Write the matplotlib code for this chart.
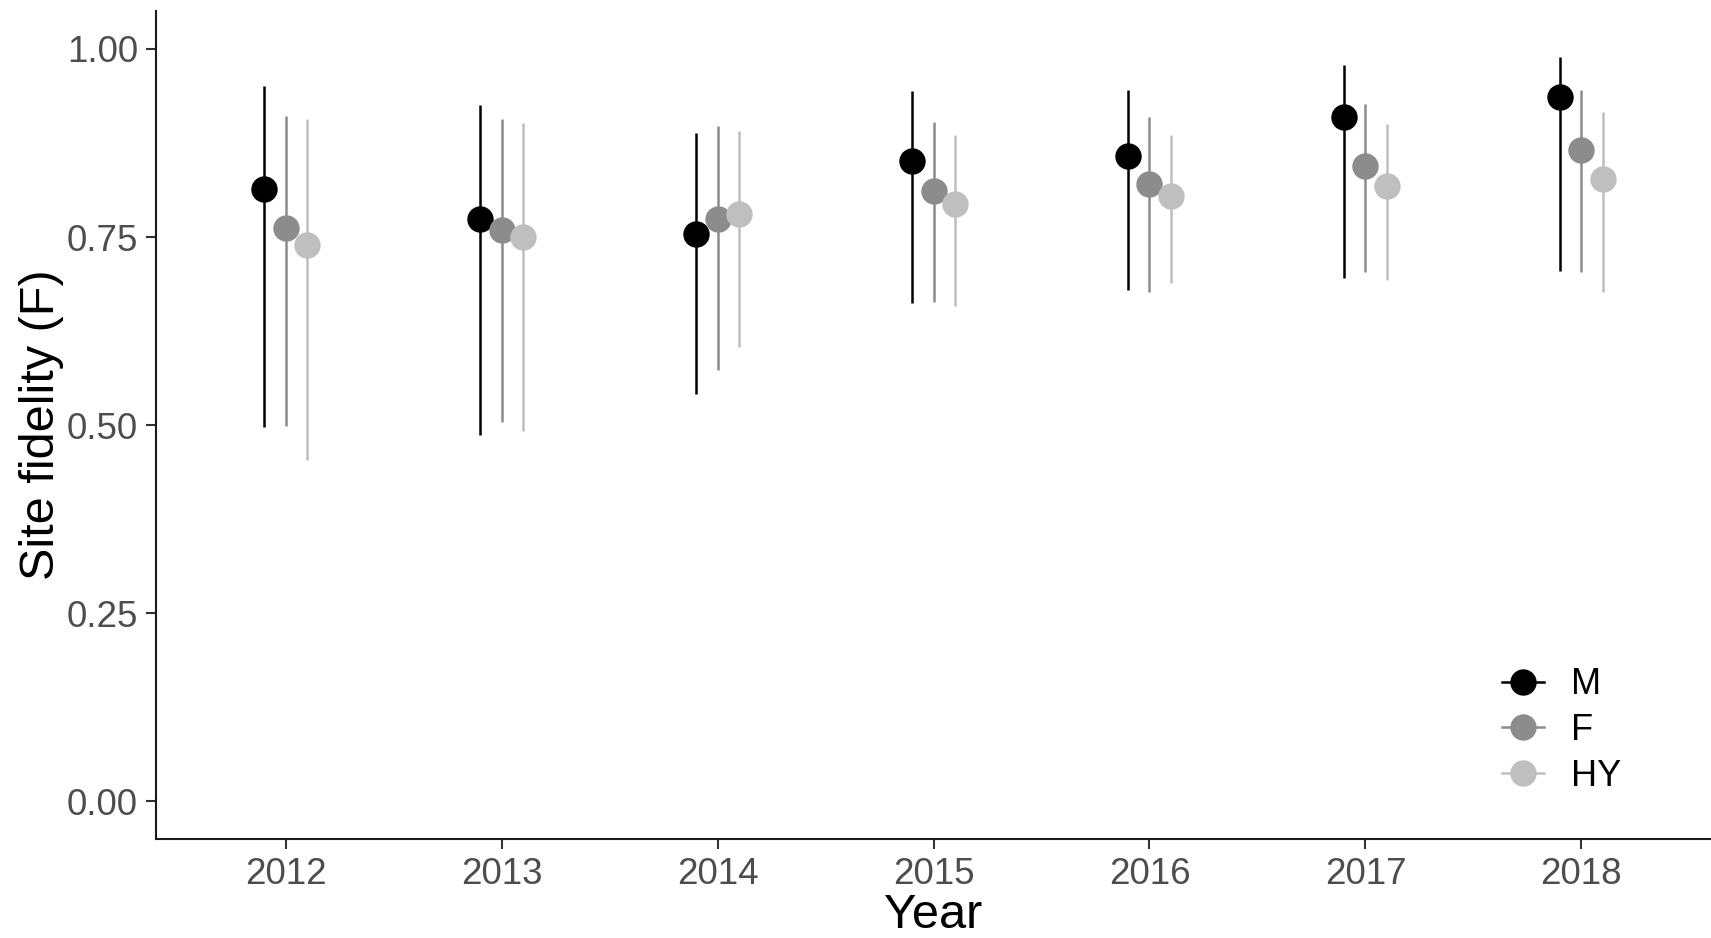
#!/usr/bin/env python
"""
Site fidelity (F) by year for M, F and HY birds, point estimates with
confidence intervals, ggplot-classic look.
"""

# Third party modules.
import numpy as np
import matplotlib
matplotlib.use("Agg")
import matplotlib.pyplot as plt
from matplotlib.lines import Line2D

# Globals and constants variables.
years = ["2012", "2013", "2014", "2015", "2016", "2017", "2018"]
groups = ["M", "F", "HY"]

m_est = [0.814, 0.774, 0.754, 0.851, 0.857, 0.909, 0.936]
m_low = [0.498, 0.487, 0.541, 0.662, 0.679, 0.695, 0.705]
m_high = [0.951, 0.925, 0.888, 0.944, 0.945, 0.978, 0.989]

f_est = [0.762, 0.759, 0.774, 0.811, 0.820, 0.845, 0.865]
f_low = [0.499, 0.504, 0.573, 0.663, 0.677, 0.703, 0.703]
f_high = [0.911, 0.907, 0.897, 0.903, 0.909, 0.927, 0.945]

hy_est = [0.740, 0.750, 0.780, 0.794, 0.805, 0.818, 0.827]
hy_low = [0.454, 0.492, 0.604, 0.658, 0.689, 0.693, 0.677]
hy_high = [0.907, 0.902, 0.891, 0.886, 0.886, 0.900, 0.916]

colors = {"M": "#000000", "F": "#8c8c8c", "HY": "#bfbfbf"}
offsets = {"M": -0.1, "F": 0.0, "HY": 0.1}

plt.rcParams["font.family"] = ["Liberation Sans", "DejaVu Sans"]


def run():
    fig = plt.figure(figsize=(17.11, 9.38), dpi=100)
    ax = fig.add_axes([0.0912, 0.1055, 0.9088, 0.8825])

    series = {
        "M": (m_est, m_low, m_high),
        "F": (f_est, f_low, f_high),
        "HY": (hy_est, hy_low, hy_high),
    }
    x = np.arange(1, len(years) + 1)

    for g in groups:
        est, low, high = series[g]
        xs = x + offsets[g]
        ax.vlines(xs, low, high, color=colors[g], linewidth=1.8, zorder=2)
        ax.plot(xs, est, "o", color=colors[g], markersize=19,
                markeredgewidth=0, zorder=3)

    ax.set_xlim(0.4, 7.6)
    ax.set_ylim(-0.05, 1.05)
    ax.set_xticks(x)
    ax.set_xticklabels(years)
    ax.set_yticks([0.0, 0.25, 0.5, 0.75, 1.0])
    ax.set_yticklabels(["0.00", "0.25", "0.50", "0.75", "1.00"])

    for side in ["top", "right"]:
        ax.spines[side].set_visible(False)
    for side in ["left", "bottom"]:
        ax.spines[side].set_linewidth(1.5)
        ax.spines[side].set_color("#1a1a1a")

    ax.tick_params(axis="both", length=7, width=1.5, color="#333333",
                   labelsize=26.5, labelcolor="#4d4d4d", pad=6)

    ax.set_xlabel("Year", fontsize=35, labelpad=1)
    ax.set_ylabel("Site fidelity (F)", fontsize=35, labelpad=2)

    handles = [Line2D([0], [0], color=colors[g], marker="o", markersize=19,
                      markeredgewidth=0, linewidth=1.8) for g in groups]
    ax.legend(handles, groups, loc="center left", frameon=False,
              bbox_to_anchor=(0.845, 0.131), fontsize=26,
              handlelength=1.15, handletextpad=0.75, labelspacing=0.3)

    fig.savefig("out.png", dpi=100)


if __name__ == '__main__':
    run()
